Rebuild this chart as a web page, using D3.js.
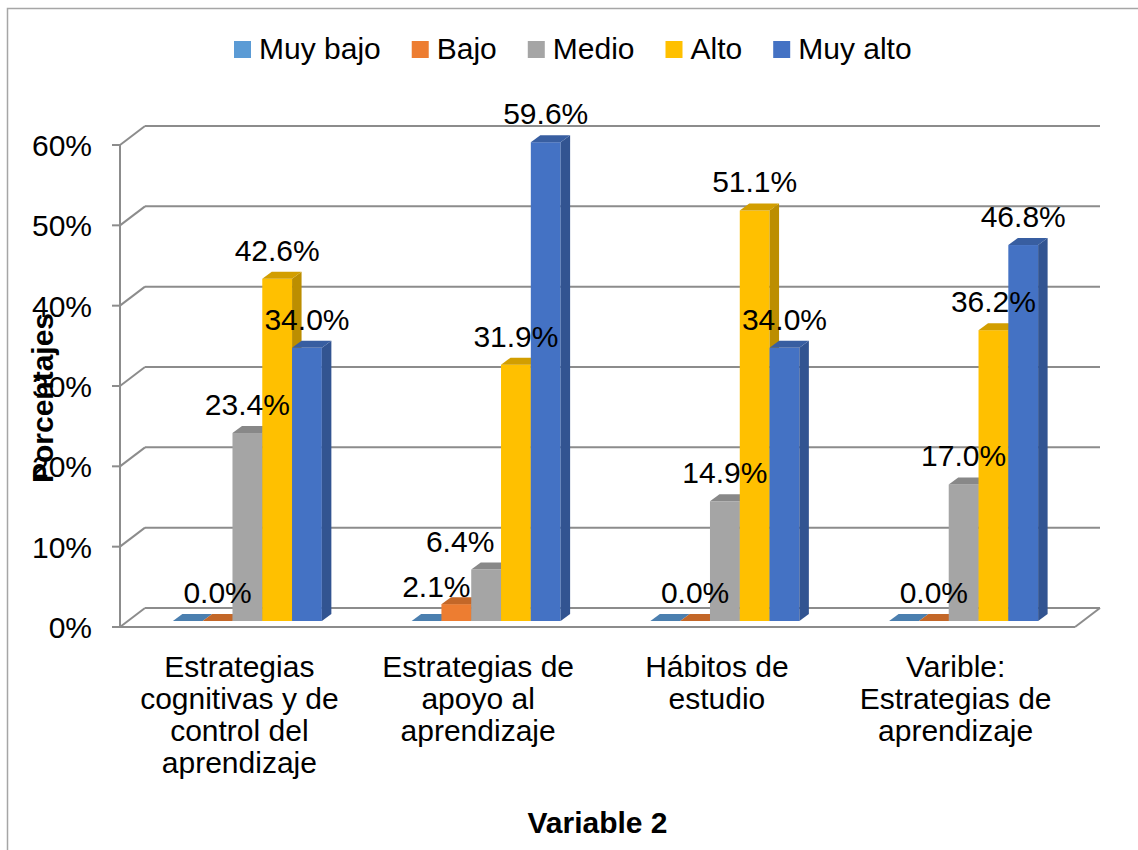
<!DOCTYPE html>
<html>
<head>
<meta charset="utf-8">
<script src="https://cdn.jsdelivr.net/npm/d3@7"></script>
<style>
  body { margin: 0; background: #fff; }
  svg text { font-family: "Liberation Sans", Arial, sans-serif; fill: #000; }
</style>
</head>
<body>
<div id="chart"></div>
<script>
var w = 1138;
var h = 850;

// data
var categories = [
  ["Estrategias", "cognitivas y de", "control del", "aprendizaje"],
  ["Estrategias de", "apoyo al", "aprendizaje"],
  ["Hábitos de", "estudio"],
  ["Varible:", "Estrategias de", "aprendizaje"]
];
var series = ["Muy bajo", "Bajo", "Medio", "Alto", "Muy alto"];
var muyBajo = [0.0, 0.0, 0.0, 0.0];
var bajo    = [0.0, 2.1, 0.0, 0.0];
var medio   = [23.4, 6.4, 14.9, 17.0];
var alto    = [42.6, 31.9, 51.1, 36.2];
var muyAlto = [34.0, 59.6, 34.0, 46.8];
var yTicks = [0, 10, 20, 30, 40, 50, 60];

var values = [muyBajo, bajo, medio, alto, muyAlto];
var colors = ["#5B9BD5", "#ED7D31", "#A5A5A5", "#FFC000", "#4472C4"];
var showLabel = [false, true, true, true, true];

// layout of the 3d box
var plotL = 120, plotR = 1075, plotB = 627, plotT = 145;
var depthX = 25, depthY = -19;     // back wall offset
var barDX = 8, barDY = -6;         // bars sit a little behind the front plane
var sideX = 9.5, sideY = -7;       // bar thickness
var gridColor = "#8C8C8C";

// hand nudges of a couple of labels (as in the original)
var nudge = {"1-1": [-20, 11], "1-2": [-26, 0]};

var svg = d3.select("#chart").append("svg")
  .attr("width", w)
  .attr("height", h);

// outer border
svg.append("rect")
  .attr("x", 7.5).attr("y", 8.5)
  .attr("width", w + 20).attr("height", h + 20)
  .attr("fill", "none")
  .attr("stroke", "#A6A6A6")
  .attr("stroke-width", 1.5);

var y = d3.scaleLinear().domain([0, 60]).range([plotB, plotT]);
var x = d3.scaleBand().domain(d3.range(categories.length)).range([plotL, plotR]).padding(0);
var groupW = x.bandwidth() * 0.624;
var xs = d3.scaleBand().domain(series)
  .range([(x.bandwidth() - groupW) / 2, (x.bandwidth() + groupW) / 2]);

// walls and grid
var grid = svg.append("g")
  .attr("stroke", gridColor)
  .attr("stroke-width", 2)
  .attr("fill", "none");

yTicks.forEach(function(t){
  var yy = y(t);
  grid.append("line")
    .attr("x1", plotL + depthX).attr("y1", yy + depthY)
    .attr("x2", plotR + depthX).attr("y2", yy + depthY);
  grid.append("line")
    .attr("x1", plotL).attr("y1", yy)
    .attr("x2", plotL + depthX).attr("y2", yy + depthY);
  grid.append("line")
    .attr("x1", plotL - 8).attr("y1", yy)
    .attr("x2", plotL).attr("y2", yy);
});
grid.append("line")
  .attr("x1", plotL).attr("y1", y(60))
  .attr("x2", plotL).attr("y2", plotB);
grid.append("line")
  .attr("x1", plotL).attr("y1", plotB)
  .attr("x2", plotR).attr("y2", plotB);
grid.append("line")
  .attr("x1", plotR).attr("y1", plotB)
  .attr("x2", plotR + depthX).attr("y2", plotB + depthY);

// y tick labels
svg.append("g").selectAll("text")
  .data(yTicks)
  .enter()
  .append("text")
  .attr("x", 92)
  .attr("y", function(d){ return y(d) + 11; })
  .attr("text-anchor", "end")
  .style("font-size", "30px")
  .text(function(d){ return d + "%"; });

// bars
var bars = svg.append("g");
categories.forEach(function(c, ci){
  series.forEach(function(s, si){
    var v = values[si][ci];
    var x0 = x(ci) + xs(s) + barDX;
    var x1 = x0 + xs.bandwidth();
    var y0 = y(0) + barDY;
    var y1 = y(v) + barDY;
    var col = d3.color(colors[si]);
    if (v > 0) {
      bars.append("rect")
        .attr("x", x0).attr("y", y1)
        .attr("width", x1 - x0).attr("height", y0 - y1)
        .attr("fill", colors[si]);
      bars.append("path")
        .attr("d", "M" + x1 + "," + y0 + "L" + (x1 + sideX) + "," + (y0 + sideY) +
                   "L" + (x1 + sideX) + "," + (y1 + sideY) + "L" + x1 + "," + y1 + "Z")
        .attr("fill", col.darker(0.85));
    }
    bars.append("path")
      .attr("d", "M" + x0 + "," + y1 + "L" + x1 + "," + y1 +
                 "L" + (x1 + sideX) + "," + (y1 + sideY) + "L" + (x0 + sideX) + "," + (y1 + sideY) + "Z")
      .attr("fill", col.darker(0.55));
  });
});

// data labels
var labels = svg.append("g");
categories.forEach(function(c, ci){
  series.forEach(function(s, si){
    if (!showLabel[si]) return;
    var v = values[si][ci];
    var n = nudge[ci + "-" + si] || [0, 0];
    labels.append("text")
      .attr("x", x(ci) + xs(s) + barDX + xs.bandwidth() / 2 + n[0])
      .attr("y", y(v) + barDY - 18 + n[1])
      .attr("text-anchor", "middle")
      .style("font-size", "30px")
      .text(v.toFixed(1) + "%");
  });
});

// category labels
var cat = svg.append("g");
categories.forEach(function(lines, ci){
  var t = cat.append("text")
    .attr("text-anchor", "middle")
    .style("font-size", "30px");
  lines.forEach(function(line, li){
    t.append("tspan")
      .attr("x", x(ci) + x.bandwidth() / 2)
      .attr("y", 677 + li * 32)
      .text(line);
  });
});

// axis titles
svg.append("text")
  .attr("transform", "translate(53,398) rotate(-90)")
  .attr("text-anchor", "middle")
  .style("font-size", "30px")
  .style("font-weight", "bold")
  .text("Porcentajes");

svg.append("text")
  .attr("x", (plotL + plotR) / 2)
  .attr("y", 833)
  .attr("text-anchor", "middle")
  .style("font-size", "30px")
  .style("font-weight", "bold")
  .text("Variable 2");

// legend
var legend = svg.append("g");
var lx = 234;
series.forEach(function(s, si){
  legend.append("rect")
    .attr("x", lx).attr("y", 41)
    .attr("width", 17).attr("height", 17)
    .attr("fill", colors[si]);
  var t = legend.append("text")
    .attr("x", lx + 25)
    .attr("y", 59)
    .style("font-size", "30px")
    .text(s);
  lx += 25 + t.node().getComputedTextLength() + 31;
});
</script>
</body>
</html>
